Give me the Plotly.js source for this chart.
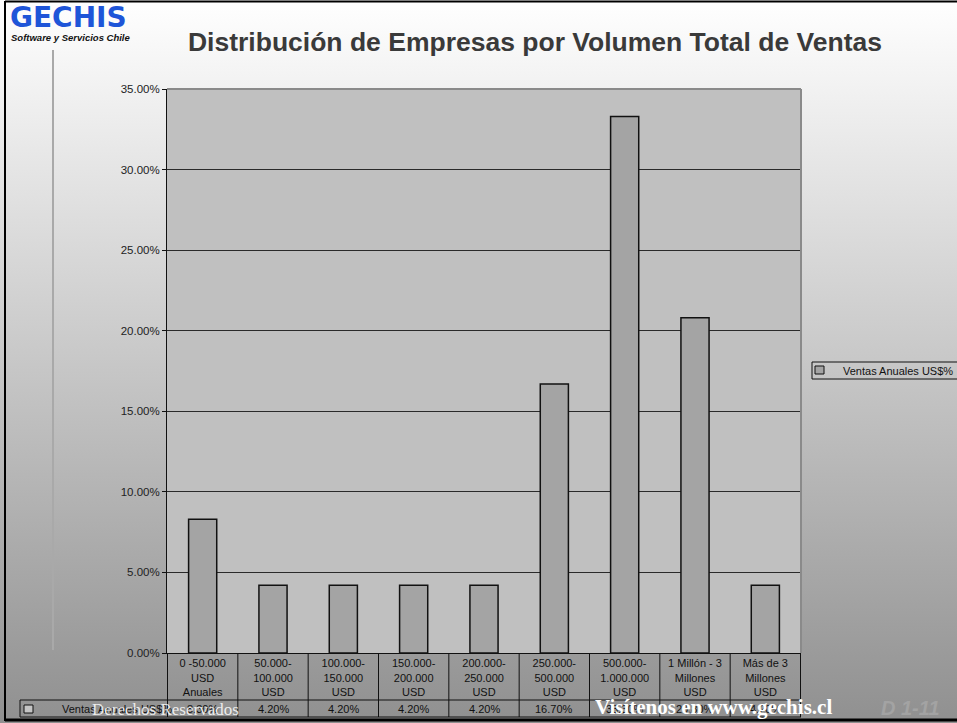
<!DOCTYPE html>
<html><head><meta charset="utf-8">
<script src="https://cdn.plot.ly/plotly-3.0.1.min.js"></script>
<style>html,body{margin:0;padding:0;background:#fff;overflow:hidden;}#chart{width:957px;height:723px;background:linear-gradient(to bottom,#ffffff 0%,#909090 100%);}</style>
</head><body><div id="chart"></div>
<script>
const categories = [
  '0 -50.000<br>USD<br>Anuales',
  '50.000-<br>100.000<br>USD',
  '100.000-<br>150.000<br>USD',
  '150.000-<br>200.000<br>USD',
  '200.000-<br>250.000<br>USD',
  '250.000-<br>500.000<br>USD',
  '500.000-<br>1.000.000<br>USD',
  '1 Millón - 3<br>Millones<br>USD',
  'Más de 3<br>Millones<br>USD'
];
const values = [8.3, 4.2, 4.2, 4.2, 4.2, 16.7, 33.3, 20.8, 4.2];
const seriesName = 'Ventas Anuales US$%';
const yTicks = [0, 5, 10, 15, 20, 25, 30, 35];
const yTickLabels = yTicks.map(v => v.toFixed(2) + '%');
const titleText = 'Distribución de Empresas por Volumen Total de Ventas';

// plot-area pixel geometry helpers
const L = 167, R = 801, T = 89, B = 653;
const px2x = p => (p - L) / (R - L);
const py2y = p => (B - p) / (B - T);
const barColor = '#a4a4a4';

const trace = {
  type: 'bar', x: categories, y: values, name: seriesName,
  marker: {color: barColor, line: {color: '#111', width: 1.5}},
  showlegend: false, hoverinfo: 'x+y'
};

const shapes = [];
const line = (x0, y0, x1, y1, color, width, xref, yref) => shapes.push({
  type: 'line', xref: xref || 'paper', yref: yref || 'paper', x0, y0, x1, y1,
  line: {color, width}, layer: 'above'
});
const rect = (x0, y0, x1, y1, lc, fill) => shapes.push({type: 'rect', xref: 'paper', yref: 'paper',
  x0: px2x(x0), x1: px2x(x1), y0: py2y(y1), y1: py2y(y0), line: {color: lc, width: 1}, fillcolor: fill, layer: 'above'});
// data table grid
line(px2x(20), py2y(700), 1, py2y(700), '#111', 1);
line(px2x(20), py2y(717), 1, py2y(717), '#111', 1);
line(px2x(20), py2y(700), px2x(20), py2y(717), '#111', 1);
for (let k = 0; k <= categories.length; k++) {
  line(k - 0.5, 0, k - 0.5, py2y(717), '#111', 1, 'x', 'paper');
}
// plot area border (top / right)
line(0, 1, 1, 1, '#8a8a8a', 2);
line(1, 0, 1, 1, '#8a8a8a', 2);
// slide frame
line(px2x(5), py2y(1), px2x(5), py2y(721), '#000', 2);
line(px2x(5), py2y(1.5), px2x(960), py2y(1.5), '#000', 2);
line(px2x(5), py2y(720), px2x(960), py2y(720), '#000', 3);
// decorative vertical line
line(px2x(53), py2y(50), px2x(53), py2y(650), '#a9a9a9', 2);
// legend key in table
rect(24, 705, 33, 713, '#111', '#c4c4c4');
// legend box at right
rect(812, 362, 965, 379, '#111', 'rgba(0,0,0,0)');
rect(815, 366, 824, 374, '#111', barColor);

const f11 = {family: 'Liberation Sans, Arial', size: 11, color: '#111'};
const annotations = values.map((v, i) => ({
  x: categories[i], xref: 'x', y: py2y(709), yref: 'paper', yanchor: 'middle',
  text: v.toFixed(2) + '%', showarrow: false, font: f11
}));
annotations.push({x: px2x(174), xref: 'paper', xanchor: 'right', y: py2y(709), yref: 'paper', yanchor: 'middle',
  text: seriesName, showarrow: false, font: f11});
annotations.push({x: px2x(841), xref: 'paper', xanchor: 'left', y: py2y(370.5), yref: 'paper', yanchor: 'middle',
  text: seriesName, showarrow: false, font: f11});
// watermarks
annotations.push({x: px2x(165), xref: 'paper', xanchor: 'center', y: py2y(709), yref: 'paper', yanchor: 'middle',
  text: 'Derechos Reservados', showarrow: false, font: {family: 'Liberation Serif, Times New Roman', size: 17, color: 'rgba(255,255,255,0.85)'}});
annotations.push({x: px2x(593), xref: 'paper', xanchor: 'left', y: py2y(707), yref: 'paper', yanchor: 'middle',
  text: '<b>Visítenos en www.gechis.cl</b>', showarrow: false, font: {family: 'Liberation Serif, Times New Roman', size: 21, color: '#ffffff'}});
annotations.push({x: px2x(910), xref: 'paper', xanchor: 'center', y: py2y(708), yref: 'paper', yanchor: 'middle',
  text: '<b><i>D 1-11</i></b>', showarrow: false, font: {family: 'Liberation Sans, Arial', size: 20, color: '#a3a3a3'}});
// logo
annotations.push({x: px2x(8), xref: 'paper', xanchor: 'left', y: py2y(17), yref: 'paper', yanchor: 'middle',
  text: '<b>GECHIS</b>', showarrow: false, font: {family: 'DejaVu Sans', size: 28, color: '#1e55d8'}});
annotations.push({x: px2x(9), xref: 'paper', xanchor: 'left', y: py2y(38), yref: 'paper', yanchor: 'middle',
  text: '<b><i>Software y Servicios Chile</i></b>', showarrow: false, font: {family: 'Liberation Sans, Arial', size: 9.5, color: '#111'}});

const layout = {
  width: 957, height: 723,
  margin: {l: L, r: 957 - R, t: T, b: 723 - B},
  paper_bgcolor: 'rgba(0,0,0,0)', plot_bgcolor: '#c0c0c0',
  title: {text: '<b>' + titleText + '</b>', x: 535 / 957, xanchor: 'center', xref: 'container',
    y: 1 - 42 / 723, yanchor: 'middle', yref: 'container',
    font: {family: 'Liberation Sans, Arial', size: 26.5, color: '#3a3a3a'}},
  bargap: 0.6, showlegend: false,
  xaxis: {type: 'category', showline: true, linecolor: '#111', linewidth: 1, ticks: '', tickangle: 0,
    tickfont: f11, showgrid: false, fixedrange: true},
  yaxis: {range: [0, 35], tickvals: yTicks, ticktext: yTickLabels, showgrid: true, gridcolor: '#2a2a2a', gridwidth: 1,
    showline: true, linecolor: '#111', linewidth: 1, ticks: 'outside', ticklen: 4, tickcolor: '#111', zeroline: false,
    tickfont: {family: 'Liberation Sans, Arial', size: 11.5, color: '#222'}, fixedrange: true},
  shapes, annotations
};
Plotly.newPlot('chart', [trace], layout, {displayModeBar: false, staticPlot: true});
</script></body></html>
